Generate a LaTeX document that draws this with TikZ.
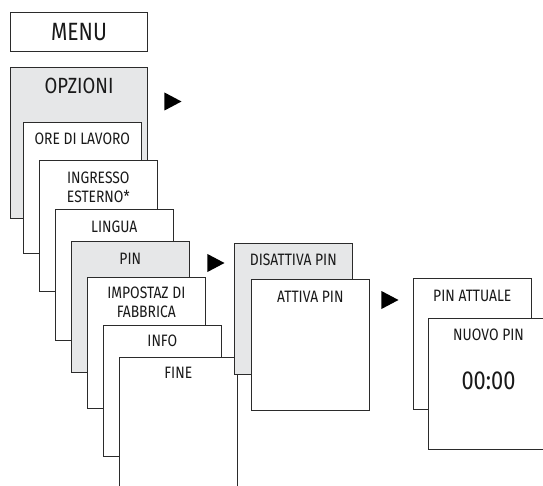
\documentclass[tikz,border=0pt]{standalone}
\usepackage{fontspec}
\setmainfont[FakeStretch=0.84]{Fira Sans}
\usepackage{xcolor}
\usetikzlibrary{shapes.geometric, positioning}
\definecolor{panelgray}{HTML}{E6E7E8}
\definecolor{frame}{HTML}{2B2B2B}

\begin{document}
\begin{tikzpicture}[
    x=1pt, y=-1pt,
    screen/.style={draw=frame, line width=1.1pt, fill=white, anchor=north west, minimum width=117.5pt, minimum height=131pt, inner sep=0pt},
    selected/.style={screen, fill=panelgray},
    caption/.style={font=\fontsize{16.5}{19}\selectfont, anchor=north, inner sep=0pt, align=center, text=black!90},
    pointer/.style={isosceles triangle, isosceles triangle stretches, minimum width=18pt, minimum height=17pt, inner sep=0pt, fill=black, anchor=apex}
]
\useasboundingbox (0,0) rectangle (543,486);

% Menu
\node[screen, minimum width=137pt, minimum height=39pt] (menu) at (10,12) {};
\node[font=\fontsize{25}{28}\selectfont, text=black!90] (menutext) at (menu.center) {MENU};

% Main options stack
\node[selected, minimum width=137pt, minimum height=151pt] (opzioni) at (10,67) {};
\node[caption, font=\fontsize{22}{25}\selectfont] (opzionitext) at ([yshift=-11pt]opzioni.north) {OPZIONI};
\node[pointer] (toopzioni) at (182,101.5) {};

\node[screen] (orelavoro) at (23,122) {};
\node[caption] (orelavorotext) at ([yshift=-11pt]orelavoro.north) {ORE DI LAVORO};

\node[screen] (ingresso) at (39,160) {};
\node[caption] (ingressotext) at ([yshift=-12pt]ingresso.north) {INGRESSO\\ESTERNO*};

\node[screen] (lingua) at (55,209) {};
\node[caption] (linguatext) at ([yshift=-12pt]lingua.north) {LINGUA};

\node[selected] (pin) at (71,241) {};
\node[caption] (pintext) at ([yshift=-12pt]pin.north) {PIN};
\node[pointer] (topin) at (225,263) {};

\node[screen] (impostaz) at (87,277) {};
\node[caption] (impostaztext) at ([yshift=-10pt]impostaz.north) {IMPOSTAZ DI\\FABBRICA};

\node[screen] (info) at (103,325) {};
\node[caption] (infotext) at ([yshift=-10pt]info.north) {INFO};

\node[screen, minimum height=140pt] (fine) at (119,357) {};
\node[caption] (finetext) at ([yshift=-10pt]fine.north) {FINE};

% PIN submenu
\node[selected] (disattiva) at (234,243) {};
\node[caption] (disattivatext) at ([yshift=-11pt]disattiva.north) {DISATTIVA PIN};

\node[screen] (attiva) at (251,279) {};
\node[caption] (attivatext) at ([yshift=-12pt]attiva.north) {ATTIVA PIN};
\node[pointer] (toattiva) at (399,300) {};

% PIN entry
\node[screen] (attuale) at (413,278) {};
\node[caption] (attualetext) at ([yshift=-12pt]attuale.north) {PIN ATTUALE};

\node[screen, minimum width=120pt] (nuovo) at (428,318) {};
\node[caption] (nuovotext) at ([yshift=-11pt]nuovo.north) {NUOVO PIN};
\node[caption, font=\fontsize{26}{29}\selectfont] (nuovovalue) at ([yshift=-54pt]nuovo.north) {00:00};

\end{tikzpicture}
\end{document}
